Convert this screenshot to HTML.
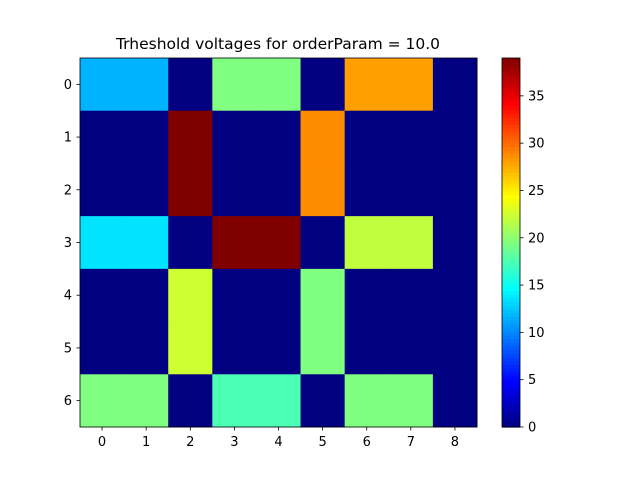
<!DOCTYPE html>
<html><head><meta charset="utf-8"><style>
body{margin:0;background:#fff;}
svg text{font-family:"DejaVu Sans","Liberation Sans",sans-serif;font-size:13px;fill:#000;}
</style></head><body>
<svg id="chart" width="640" height="480" xmlns="http://www.w3.org/2000/svg">
<rect width="640" height="480" fill="#fff"/>
<text x="278" y="49" text-anchor="middle" style="font-size:15.5px">Trheshold voltages for orderParam = 10.0</text>
<g id="cells"></g><g id="axes"></g><g id="cbar"></g>
</svg>
<script>
const colLabels=[0,1,2,3,4,5,6,7,8];
const rowLabels=[0,1,2,3,4,5,6];
const values=[
[11.7,11.7,0,19.5,19.5,0,28,28,0],
[0,0,39,0,0,28.8,0,0,0],
[0,0,39,0,0,28.8,0,0,0],
[13.6,13.6,0,39,39,0,22,22,0],
[0,0,22.5,0,0,19.5,0,0,0],
[0,0,22.5,0,0,19.5,0,0,0],
[19.5,19.5,0,17.5,17.5,0,19.5,19.5,0]];
const cbTicks=[0,5,10,15,20,25,30,35];
const vmin=0,vmax=39;
const X0=80,X1=477,Y0=58,Y1=427;
const cw=(X1-X0)/colLabels.length, ch=(Y1-Y0)/rowLabels.length;
const xS=i=>X0+i*cw, yS=j=>Y0+j*ch;
const NS="http://www.w3.org/2000/svg";
function cl(v){return Math.max(0,Math.min(1,v));}
function jet(t){
  const r=cl(1.5-Math.abs(4*t-3)),g=cl(1.5-Math.abs(4*t-2)),b=cl(1.5-Math.abs(4*t-1));
  return `rgb(${Math.round(r*255)},${Math.round(g*255)},${Math.round(b*255)})`;
}
function mk(tag,attrs,parent){const e=document.createElementNS(NS,tag);for(const k in attrs)e.setAttribute(k,attrs[k]);parent.appendChild(e);return e;}
const cells=document.getElementById('cells');
values.forEach((row,j)=>row.forEach((v,i)=>{
  const r=mk('rect',{x:xS(i),y:yS(j),width:cw+0.5,height:ch+0.5,fill:jet((v-vmin)/(vmax-vmin))},cells);
  
  
}));
const ax=document.getElementById('axes');
const fr=mk('rect',{x:X0,y:Y0,width:X1-X0,height:Y1-Y0,fill:'none',stroke:'#000','stroke-width':0.8},ax);


colLabels.forEach((c,i)=>{
  const x=xS(i)+cw/2;
  mk('line',{x1:x,x2:x,y1:Y1,y2:Y1+3.5,stroke:'#000','stroke-width':0.8},ax);
  const t=mk('text',{x:x,y:Y1+19,'text-anchor':'middle'},ax);t.textContent=c;
  
  
});
rowLabels.forEach((c,j)=>{
  const y=yS(j)+ch/2;
  mk('line',{x1:X0-3.5,x2:X0,y1:y,y2:y,stroke:'#000','stroke-width':0.8},ax);
  const t=mk('text',{x:X0-8,y:y+4.5,'text-anchor':'end'},ax);t.textContent=c;
  
  
});
const cb=document.getElementById('cbar');
const CX=502,CW=18;
const N=100;
for(let k=0;k<N;k++){
  const y=Y1-(k+1)*(Y1-Y0)/N;
  mk('rect',{x:CX,y:y,width:CW,height:(Y1-Y0)/N+0.6,fill:jet((k+0.5)/N)},cb);
}
const cf=mk('rect',{x:CX,y:Y0,width:CW,height:Y1-Y0,fill:'none',stroke:'#000','stroke-width':0.8},cb);


cbTicks.forEach(v=>{
  const y=Y1-(v-vmin)/(vmax-vmin)*(Y1-Y0);
  mk('line',{x1:CX+CW,x2:CX+CW+3.5,y1:y,y2:y,stroke:'#000','stroke-width':0.8},cb);
  const t=mk('text',{x:CX+CW+8,y:y+4.5},cb);t.textContent=v;
  
  
});
</script>
</body></html>
